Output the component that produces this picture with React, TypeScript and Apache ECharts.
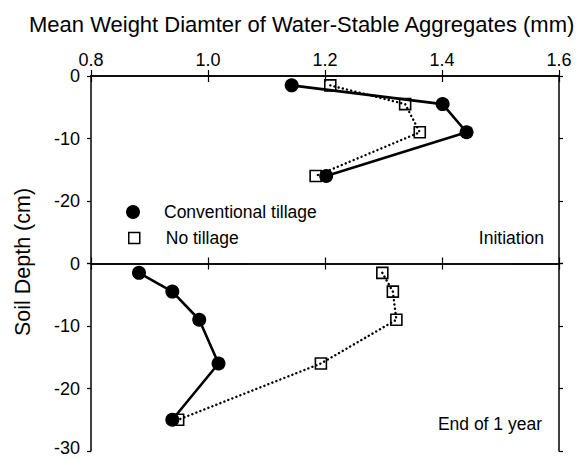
import React, { useEffect, useRef } from "react";
import * as echarts from "echarts";

// Initiation panel
const depthInit = [-1.5, -4.5, -9, -16];
const convInit = [1.143, 1.401, 1.442, 1.202];
const noTillInit = [1.209, 1.337, 1.362, 1.184];
// End of 1 year panel
const depthEnd = [-1.5, -4.5, -9, -16, -25];
const convEnd = [0.882, 0.939, 0.985, 1.018, 0.939];
const noTillEnd = [1.298, 1.316, 1.322, 1.193, 0.949];

const seriesNames = ["Conventional tillage", "No tillage"];
const panelLabels = ["Initiation", "End of 1 year"];
const xTitle = "Mean Weight Diamter of Water-Stable Aggregates (mm)";
const yTitle = "Soil Depth (cm)";

const FONT = "'Liberation Sans', Arial, sans-serif";

const pairs = (xs: number[], ys: number[]) => xs.map((x, i) => [x, ys[i]]);

export default function App() {
  const ref = useRef<HTMLDivElement>(null);
  useEffect(() => {
    if (!ref.current) return;
    const chart = echarts.init(ref.current, undefined, { renderer: "svg" });
    const axisLine = { show: true, lineStyle: { color: "#000", width: 1.5 } };
    const xBase = {
      type: "value",
      min: 0.8,
      max: 1.6,
      interval: 0.2,
      axisLine,
      splitLine: { show: false },
      axisTick: { show: true, inside: true, length: 6, lineStyle: { color: "#000", width: 1.2 } },
    };
    const yBase = {
      type: "value",
      min: -30,
      max: 0,
      interval: 10,
      axisLine,
      splitLine: { show: false },
      axisTick: { show: true, inside: false, length: 4, lineStyle: { color: "#000", width: 1.2 } },
    };
    const labelStyle = { color: "#000", fontSize: 18, fontFamily: FONT };
    const ntStyle = {
      type: "line",
      name: seriesNames[1],
      symbol: "rect",
      symbolSize: 11,
      itemStyle: { color: "transparent", borderColor: "#000", borderWidth: 1.6 },
      lineStyle: { color: "#000", width: 2.4, type: [0.1, 4.2], cap: "round" },
      z: 2,
    };
    const ctStyle = {
      type: "line",
      name: seriesNames[0],
      symbol: "circle",
      symbolSize: 14,
      itemStyle: { color: "#000" },
      lineStyle: { color: "#000", width: 2.6 },
      z: 3,
    };
    chart.setOption({
      animation: false,
      title: {
        text: xTitle,
        left: 24,
        top: 8,
        textStyle: { fontSize: 22, fontWeight: "normal", color: "#000", fontFamily: FONT },
      },
      grid: [
        { left: 91, top: 76, width: 468, height: 187.5, outerBoundsMode: "none", containLabel: false },
        { left: 91, top: 263.5, width: 468, height: 187.5, outerBoundsMode: "none", containLabel: false },
      ],
      xAxis: [
        {
          ...xBase,
          gridIndex: 0,
          position: "top",
          axisLabel: { ...labelStyle, margin: 7, formatter: (v: number) => v.toFixed(1) },
        },
        { ...xBase, gridIndex: 0, position: "bottom", axisLabel: { show: false } },
        { ...xBase, gridIndex: 1, position: "top", axisLabel: { show: false } },
        { ...xBase, gridIndex: 1, position: "bottom", axisLabel: { show: false } },
      ],
      yAxis: [
        {
          ...yBase,
          gridIndex: 0,
          position: "left",
          axisLabel: {
            ...labelStyle,
            margin: 11,
            lineHeight: 14,
            formatter: (v: number) => (v === -30 ? "" : String(v)),
          },
        },
        { ...yBase, gridIndex: 0, position: "right", axisLabel: { show: false } },
        {
          ...yBase,
          gridIndex: 1,
          position: "left",
          axisLabel: {
            ...labelStyle,
            margin: 11,
            lineHeight: 14,
            formatter: (v: number) => (v === -30 ? "{low|" + String(v) + "}" : String(v)),
            rich: { low: { ...labelStyle, lineHeight: 14, padding: [0, 0, 6, 0] } },
          },
        },
        { ...yBase, gridIndex: 1, position: "right", axisLabel: { show: false } },
      ],
      legend: [
        {
          data: [{ name: seriesNames[0], icon: "circle", itemStyle: { color: "#000", borderWidth: 0 } }],
          left: 121,
          top: 198,
          itemWidth: 14,
          itemHeight: 14,
          selectedMode: false,
          textStyle: { color: "#000", fontSize: 17.5, fontFamily: FONT, padding: [0, 0, 0, 19] },
        },
        {
          data: [
            {
              name: seriesNames[1],
              icon: "rect",
              itemStyle: { color: "#fff", borderColor: "#000", borderWidth: 1.5 },
            },
          ],
          left: 123,
          top: 224,
          itemWidth: 11,
          itemHeight: 11,
          selectedMode: false,
          textStyle: { color: "#000", fontSize: 17.5, fontFamily: FONT, padding: [0, 0, 0, 21] },
        },
      ],
      graphic: [
        {
          type: "text",
          x: 23,
          y: 262,
          rotation: Math.PI / 2,
          style: {
            text: yTitle,
            fontSize: 21.5,
            fontFamily: FONT,
            fill: "#000",
            align: "center",
            verticalAlign: "middle",
          },
        },
        {
          type: "text",
          x: 544,
          y: 238,
          style: {
            text: panelLabels[0],
            fontSize: 17.5,
            fontFamily: FONT,
            fill: "#000",
            align: "right",
            verticalAlign: "middle",
          },
        },
        {
          type: "text",
          x: 542,
          y: 424,
          style: {
            text: panelLabels[1],
            fontSize: 17.5,
            fontFamily: FONT,
            fill: "#000",
            align: "right",
            verticalAlign: "middle",
          },
        },
      ],
      series: [
        { ...ntStyle, xAxisIndex: 0, yAxisIndex: 0, data: pairs(noTillInit, depthInit) },
        { ...ctStyle, xAxisIndex: 0, yAxisIndex: 0, data: pairs(convInit, depthInit) },
        { ...ntStyle, xAxisIndex: 3, yAxisIndex: 2, data: pairs(noTillEnd, depthEnd) },
        { ...ctStyle, xAxisIndex: 3, yAxisIndex: 2, data: pairs(convEnd, depthEnd) },
      ],
    });
    return () => chart.dispose();
  }, []);
  return <div ref={ref} style={{ width: 582, height: 459, position: "absolute", left: 0, top: 0 }} />;
}
